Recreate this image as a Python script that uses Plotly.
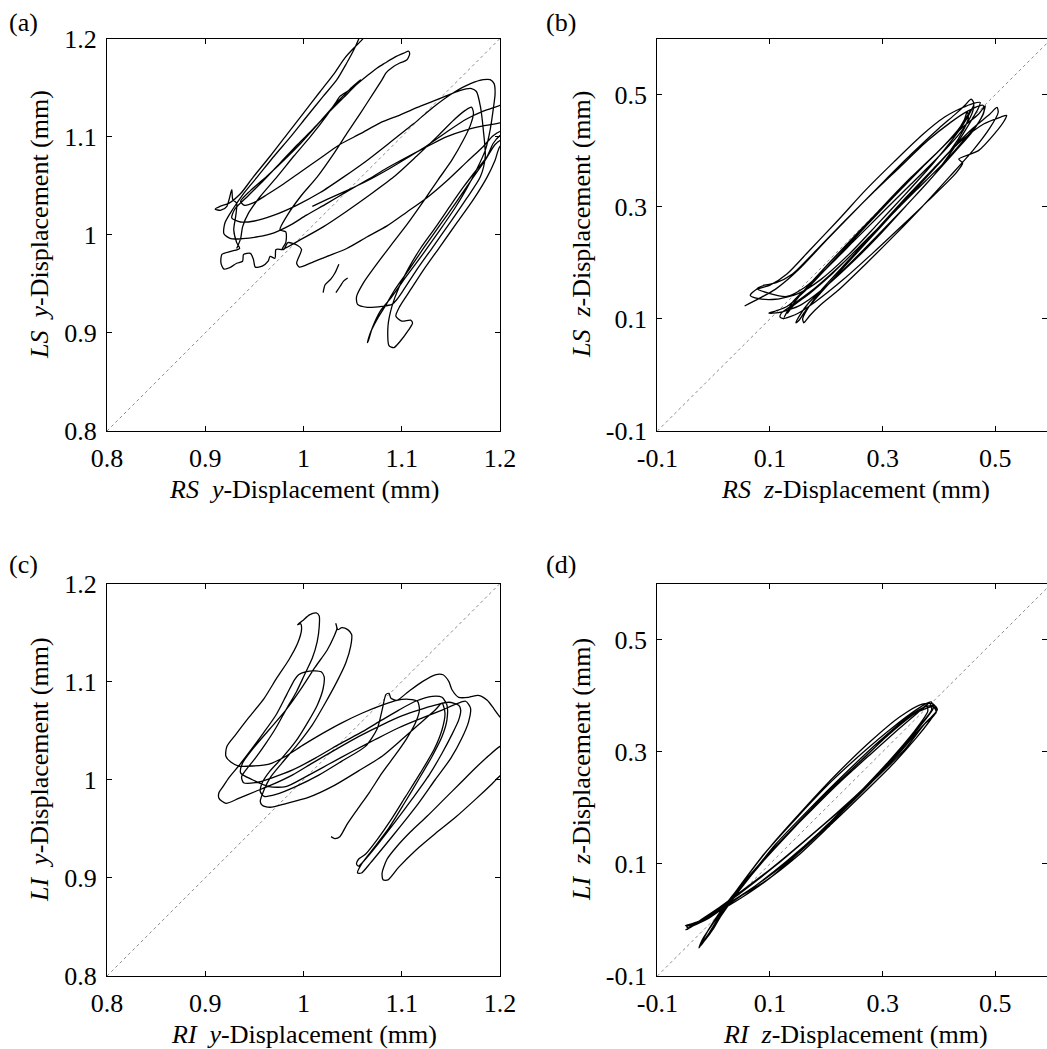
import plotly.graph_objects as go

# ---------------- data ----------------
# Panel (a): RS y-displacement (x) vs LS y-displacement (y), mm
a_pts = [
    (1.036, 0.970), (1.032, 0.961), (1.028, 0.955), (1.022, 0.949), (1.020, 0.941), (None, None),
    (1.033, 0.941), (1.037, 0.947), (1.041, 0.953), (1.045, 0.956), (None, None),
    (1.009, 1.029), (1.024, 1.036), (1.044, 1.045), (1.065, 1.055), (1.085, 1.066), (1.105, 1.078),
    (1.126, 1.091), (1.146, 1.105), (1.166, 1.118), (1.183, 1.126), (1.200, 1.132), (1.209, 1.136),
    (1.225, 1.120), (1.209, 1.105), (1.200, 1.101), (1.193, 1.093), (1.187, 1.080), (1.176, 1.066),
    (1.163, 1.049), (1.149, 1.029), (1.134, 1.007), (1.119, 0.986), (1.107, 0.966), (1.097, 0.946),
    (1.090, 0.927), (1.086, 0.907), (1.087, 0.887), (1.092, 0.885), (1.098, 0.891), (1.107, 0.903),
    (1.111, 0.910), (1.109, 0.913), (1.100, 0.912), (1.094, 0.917), (1.098, 0.927), (1.109, 0.944),
    (1.122, 0.964), (1.139, 0.988), (1.156, 1.012), (1.173, 1.036), (1.187, 1.059), (1.195, 1.076),
    (1.200, 1.090), (1.209, 1.094), (1.225, 1.105),
    (1.209, 1.117), (1.200, 1.114), (1.183, 1.111), (1.166, 1.107), (1.146, 1.100), (1.126, 1.090),
    (1.105, 1.079), (1.085, 1.068), (1.065, 1.056), (1.044, 1.044), (1.024, 1.032), (1.003, 1.020),
    (0.987, 1.010), (0.970, 1.002), (0.954, 0.998), (0.938, 0.996), (0.926, 0.996), (0.919, 1.001),
    (0.920, 1.012), (0.928, 1.026), (0.939, 1.042), (0.953, 1.059), (0.970, 1.080), (0.987, 1.100),
    (1.003, 1.120), (1.020, 1.141), (1.034, 1.158), (1.044, 1.175), (1.051, 1.188), (1.056, 1.199),
    (1.059, 1.207), (1.063, 1.215), (1.066, 1.207), (1.058, 1.197), (1.051, 1.190), (1.042, 1.180),
    (1.031, 1.164), (1.017, 1.146), (1.000, 1.124), (0.983, 1.102), (0.966, 1.080), (0.949, 1.059),
    (0.936, 1.042), (0.924, 1.032), (0.915, 1.029), (0.910, 1.026), (0.916, 1.025), (0.922, 1.029),
    (0.927, 1.046), (0.928, 1.036), (0.932, 1.032), (0.931, 1.019), (0.929, 1.005), (0.932, 0.992),
    (0.935, 0.986),
    (0.926, 0.983), (0.917, 0.980), (0.916, 0.971), (0.919, 0.965), (0.926, 0.967), (0.932, 0.971),
    (0.938, 0.973), (0.939, 0.980), (0.946, 0.981), (0.949, 0.975), (0.951, 0.967), (0.958, 0.968),
    (0.964, 0.973), (0.966, 0.978), (0.971, 0.976), (0.972, 0.985), (0.980, 0.985), (0.984, 0.992),
    (0.994, 0.989), (0.998, 0.985), (0.993, 0.971), (0.996, 0.967), (1.007, 0.971), (1.024, 0.978),
    (1.044, 0.986), (1.065, 0.998), (1.085, 1.009), (1.105, 1.023), (1.126, 1.038), (1.146, 1.055),
    (1.166, 1.074), (1.183, 1.090), (1.193, 1.101), (1.202, 1.106), (1.220, 1.105),
    (1.220, 1.095), (1.202, 1.097), (1.195, 1.092), (1.185, 1.076), (1.171, 1.056), (1.156, 1.034),
    (1.139, 1.010), (1.122, 0.986), (1.107, 0.964), (1.093, 0.944), (1.083, 0.927), (1.075, 0.914),
    (1.068, 0.900), (1.065, 0.890), (1.066, 0.892), (1.070, 0.905), (1.078, 0.922), (1.090, 0.937),
    (1.105, 0.958), (1.122, 0.981), (1.139, 1.005), (1.154, 1.027), (1.166, 1.047), (1.176, 1.066),
    (1.185, 1.086), (1.190, 1.107), (1.193, 1.127), (1.195, 1.144), (1.194, 1.154), (1.190, 1.158),
    (1.183, 1.158), (1.170, 1.154), (1.153, 1.145), (1.132, 1.130), (1.112, 1.113), (1.088, 1.094),
    (1.065, 1.076), (1.041, 1.059), (1.017, 1.043), (0.993, 1.030), (0.970, 1.020), (0.950, 1.014),
    (0.936, 1.013), (0.927, 1.017),
    (0.930, 1.026), (0.944, 1.040), (0.960, 1.056), (0.977, 1.074), (0.994, 1.092), (1.010, 1.108),
    (1.027, 1.126), (1.041, 1.140), (1.054, 1.153), (1.066, 1.163), (1.075, 1.170), (1.083, 1.175),
    (1.093, 1.181), (1.102, 1.185), (1.107, 1.187), (1.108, 1.184), (1.105, 1.178), (1.098, 1.175),
    (1.091, 1.171), (1.084, 1.165), (1.080, 1.158), (1.071, 1.144), (1.058, 1.124), (1.044, 1.103),
    (1.031, 1.083), (1.014, 1.059), (0.997, 1.039), (0.983, 1.019), (0.976, 1.005), (0.982, 1.003),
    (0.982, 0.992), (0.978, 0.985),
    (0.997, 0.995), (1.020, 1.008), (1.044, 1.024), (1.068, 1.041), (1.092, 1.059), (1.115, 1.080),
    (1.136, 1.100), (1.153, 1.117), (1.165, 1.127), (1.171, 1.130), (1.173, 1.124), (1.170, 1.112),
    (1.163, 1.097), (1.151, 1.076), (1.137, 1.056), (1.122, 1.034), (1.105, 1.010), (1.088, 0.988),
    (1.073, 0.968), (1.061, 0.951), (1.054, 0.937), (1.055, 0.929), (1.065, 0.926), (1.080, 0.927),
    (1.090, 0.929), (1.095, 0.934), (1.102, 0.944), (1.115, 0.964), (1.132, 0.988), (1.149, 1.012),
    (1.166, 1.037), (1.180, 1.059), (1.185, 1.080), (1.183, 1.107), (1.180, 1.131), (1.176, 1.146),
    (1.171, 1.149), (1.159, 1.147), (1.139, 1.139), (1.119, 1.131), (1.098, 1.122), (1.078, 1.114),
    (1.058, 1.103), (1.037, 1.092), (1.017, 1.078), (0.997, 1.064), (0.980, 1.052), (0.963, 1.041),
    (0.950, 1.033), (0.940, 1.030), (0.936, 1.034),
    (0.946, 1.045), (0.963, 1.060), (0.980, 1.076), (0.997, 1.093), (1.014, 1.112), (1.027, 1.127),
    (1.036, 1.137), (1.041, 1.142), (1.049, 1.150), (1.058, 1.158), (1.054, 1.153), (1.046, 1.147),
    (1.037, 1.141), (1.033, 1.135), (1.024, 1.122), (1.007, 1.100), (0.990, 1.080), (0.973, 1.059),
    (0.956, 1.039), (0.944, 1.022), (0.938, 1.008), (0.936, 0.996), (0.932, 0.986),
]

# Panel (b): RS z-displacement vs LS z-displacement, mm
b_pts = [
    (0.055, 0.123), (0.080, 0.136), (0.110, 0.153), (0.150, 0.187), (0.200, 0.240), (0.250, 0.292),
    (0.300, 0.343), (0.350, 0.393), (0.400, 0.440), (0.430, 0.466), (0.447, 0.482), (0.457, 0.492),
    (0.462, 0.484), (0.452, 0.462), (0.430, 0.428), (0.390, 0.378), (0.340, 0.322), (0.290, 0.268),
    (0.240, 0.215), (0.190, 0.170), (0.150, 0.145), (0.110, 0.135), (0.080, 0.136), (0.065, 0.142),
    (0.075, 0.152), (0.100, 0.160), (0.130, 0.180), (0.170, 0.222), (0.220, 0.275), (0.270, 0.330),
    (0.320, 0.380), (0.370, 0.428), (0.410, 0.460), (0.440, 0.476), (0.460, 0.484), (0.473, 0.486),
    (0.470, 0.476), (0.455, 0.450), (0.430, 0.410), (0.390, 0.355), (0.340, 0.300), (0.290, 0.245),
    (0.240, 0.195), (0.190, 0.150), (0.155, 0.125), (0.130, 0.115), (0.115, 0.111), (0.098, 0.110),
    (0.110, 0.114), (0.130, 0.122), (0.160, 0.148), (0.200, 0.190), (0.250, 0.245), (0.300, 0.300),
    (0.350, 0.352), (0.400, 0.400), (0.440, 0.440), (0.470, 0.465), (0.482, 0.480),
    (0.478, 0.465), (0.460, 0.435), (0.430, 0.400), (0.390, 0.355), (0.340, 0.300), (0.290, 0.248),
    (0.240, 0.197), (0.200, 0.158), (0.170, 0.130), (0.152, 0.105), (0.146, 0.093),
    (0.152, 0.098), (0.160, 0.110), (0.180, 0.135), (0.220, 0.180), (0.270, 0.235), (0.320, 0.290),
    (0.370, 0.345), (0.420, 0.400), (0.460, 0.440), (0.490, 0.465), (0.503, 0.477),
    (0.505, 0.468), (0.490, 0.440), (0.460, 0.400), (0.420, 0.355), (0.370, 0.300), (0.320, 0.248),
    (0.270, 0.198), (0.220, 0.150), (0.190, 0.125), (0.170, 0.105), (0.163, 0.096), (0.160, 0.093),
    (0.158, 0.100), (0.165, 0.115), (0.190, 0.150), (0.240, 0.205), (0.290, 0.260), (0.340, 0.315),
    (0.390, 0.368), (0.440, 0.418), (0.480, 0.448), (0.510, 0.460), (0.520, 0.463),
    (0.515, 0.452), (0.500, 0.432), (0.470, 0.400), (0.435, 0.385), (0.442, 0.378), (0.430, 0.360),
    (0.380, 0.310), (0.330, 0.262), (0.280, 0.215), (0.230, 0.170), (0.180, 0.130), (0.150, 0.110),
    (0.125, 0.101),
    (0.130, 0.112), (0.140, 0.130), (0.170, 0.160), (0.220, 0.210), (0.270, 0.265), (0.320, 0.318),
    (0.370, 0.370), (0.410, 0.410), (0.440, 0.445), (0.455, 0.470), (0.462, 0.480),
    (0.458, 0.465), (0.440, 0.435), (0.400, 0.390), (0.350, 0.340), (0.300, 0.290), (0.250, 0.240),
    (0.200, 0.190), (0.160, 0.155), (0.130, 0.140), (0.100, 0.145), (0.077, 0.154),
    (0.090, 0.160), (0.110, 0.164), (0.140, 0.180), (0.180, 0.220), (0.230, 0.272), (0.280, 0.322),
    (0.330, 0.370), (0.380, 0.418), (0.420, 0.450), (0.450, 0.470), (0.478, 0.481),
    (0.480, 0.470), (0.470, 0.450), (0.445, 0.420), (0.410, 0.380), (0.360, 0.330), (0.310, 0.280),
    (0.260, 0.230), (0.210, 0.180), (0.170, 0.145), (0.140, 0.122), (0.131, 0.110),
    (0.135, 0.118), (0.160, 0.150), (0.210, 0.205), (0.260, 0.258), (0.310, 0.310), (0.360, 0.360),
    (0.400, 0.400), (0.430, 0.432), (0.445, 0.455), (0.450, 0.470),
    (0.452, 0.458), (0.445, 0.440), (0.420, 0.400), (0.380, 0.355), (0.330, 0.300), (0.280, 0.250),
    (0.230, 0.200), (0.180, 0.155), (0.140, 0.125), (0.120, 0.110), (0.118, 0.103), (0.125, 0.100),
]

# Panel (c): RI y-displacement vs LI y-displacement, mm
c_pts = [
    (1.028, 0.942), (1.032, 0.940), (1.037, 0.942), (1.044, 0.954), (1.055, 0.970), (1.067, 0.987),
    (1.080, 1.007), (1.094, 1.026), (1.105, 1.042), (1.114, 1.058), (1.118, 1.071), (1.116, 1.080),
    (1.107, 1.082), (1.095, 1.081), (1.080, 1.076), (1.060, 1.068), (1.039, 1.058), (1.019, 1.047),
    (0.999, 1.035), (0.982, 1.024), (0.965, 1.016), (0.948, 1.014), (0.934, 1.014), (0.926, 1.018),
    (0.921, 1.024),
    (0.922, 1.034), (0.931, 1.046), (0.944, 1.063), (0.960, 1.083), (0.973, 1.104), (0.985, 1.122),
    (0.994, 1.139), (0.998, 1.153), (0.997, 1.159), (0.994, 1.158), (0.999, 1.162), (1.006, 1.168),
    (1.013, 1.170), (1.016, 1.167), (1.016, 1.156), (1.014, 1.141), (1.009, 1.124), (1.001, 1.107),
    (0.993, 1.090), (0.982, 1.071), (0.972, 1.053), (0.961, 1.036), (0.951, 1.022), (0.943, 1.012),
    (0.937, 1.003),
    (0.939, 0.997), (0.951, 0.997), (0.968, 1.002), (0.989, 1.010), (1.012, 1.022), (1.036, 1.036),
    (1.060, 1.049), (1.080, 1.061), (1.097, 1.071), (1.114, 1.080), (1.131, 1.085), (1.141, 1.084),
    (1.146, 1.076), (1.146, 1.061), (1.141, 1.044), (1.131, 1.024), (1.117, 1.000), (1.102, 0.975),
    (1.087, 0.951), (1.072, 0.931), (1.059, 0.914), (1.055, 0.905), (1.059, 0.905), (1.068, 0.915),
    (1.082, 0.932), (1.099, 0.953), (1.117, 0.976), (1.134, 1.000), (1.150, 1.022), (1.161, 1.042),
    (1.168, 1.059), (1.170, 1.073), (1.165, 1.080),
    (1.155, 1.077), (1.141, 1.071), (1.121, 1.063), (1.097, 1.053), (1.073, 1.041), (1.050, 1.029),
    (1.026, 1.016), (1.002, 1.003), (0.982, 0.993), (0.965, 0.993), (0.948, 1.000), (0.936, 1.007),
    (0.938, 1.017), (0.948, 1.031), (0.965, 1.051), (0.982, 1.071), (0.999, 1.095), (1.012, 1.115),
    (1.024, 1.132), (1.031, 1.146), (1.034, 1.154), (1.033, 1.159), (1.035, 1.153), (1.039, 1.155),
    (1.045, 1.153), (1.049, 1.148), (1.048, 1.136), (1.043, 1.119), (1.034, 1.100), (1.022, 1.078),
    (1.009, 1.056), (0.994, 1.036), (0.978, 1.017), (0.966, 1.002), (0.960, 0.990), (0.956, 0.978),
    (0.958, 0.974), (0.966, 0.972), (0.983, 0.976), (1.005, 0.982), (1.031, 0.994), (1.056, 1.009),
    (1.080, 1.024), (1.100, 1.041), (1.117, 1.056), (1.134, 1.071), (1.141, 1.078),
    (1.144, 1.068), (1.141, 1.051), (1.133, 1.031), (1.119, 1.007), (1.104, 0.983), (1.089, 0.959),
    (1.075, 0.939), (1.063, 0.924), (1.056, 0.919), (1.054, 0.914), (1.056, 0.912), (1.063, 0.919),
    (1.077, 0.936), (1.094, 0.958), (1.111, 0.981), (1.128, 1.005), (1.141, 1.027), (1.151, 1.046),
    (1.158, 1.061), (1.160, 1.071), (1.158, 1.076),
    (1.148, 1.079), (1.134, 1.076), (1.117, 1.071), (1.100, 1.065), (1.080, 1.056), (1.056, 1.044),
    (1.033, 1.031), (1.009, 1.017), (0.989, 1.005), (0.968, 0.995), (0.951, 0.988), (0.934, 0.981),
    (0.921, 0.976), (0.914, 0.981), (0.914, 0.987), (0.918, 0.993),
    (0.924, 1.002), (0.934, 1.014), (0.944, 1.027), (0.958, 1.046), (0.972, 1.066), (0.983, 1.087),
    (0.991, 1.102), (0.995, 1.107), (1.002, 1.110), (1.012, 1.111), (1.018, 1.110), (1.021, 1.105),
    (1.020, 1.093), (1.014, 1.076), (1.004, 1.058), (0.992, 1.039), (0.978, 1.022), (0.966, 1.009),
    (0.958, 0.997), (0.956, 0.988), (0.960, 0.983),
    (0.972, 0.985), (0.992, 0.993), (1.016, 1.005), (1.039, 1.019), (1.063, 1.034), (1.075, 1.052),
    (1.080, 1.071), (1.084, 1.087), (1.087, 1.088), (1.089, 1.083), (1.095, 1.081), (1.107, 1.090),
    (1.121, 1.100), (1.134, 1.107), (1.142, 1.107), (1.148, 1.100), (1.151, 1.092), (1.158, 1.084),
    (1.168, 1.084), (1.178, 1.086), (1.187, 1.081), (1.194, 1.072), (1.200, 1.064), (1.207, 1.059),
    (1.220, 1.050),
    (1.220, 1.040), (1.207, 1.037), (1.200, 1.034), (1.189, 1.025), (1.175, 1.012), (1.160, 0.997),
    (1.143, 0.980), (1.126, 0.963), (1.109, 0.947), (1.095, 0.932), (1.085, 0.919), (1.080, 0.905),
    (1.081, 0.898), (1.086, 0.898), (1.097, 0.911), (1.114, 0.928), (1.134, 0.945), (1.155, 0.962),
    (1.175, 0.980), (1.192, 0.996), (1.200, 1.004), (1.207, 1.009),
]

# Panel (d): RI z-displacement vs LI z-displacement, mm
d_pts = [
    (-0.050, -0.018), (-0.030, -0.006), (0.000, 0.012), (0.040, 0.038), (0.090, 0.068), (0.150, 0.115),
    (0.210, 0.172), (0.270, 0.230), (0.320, 0.280), (0.360, 0.325), (0.385, 0.357), (0.395, 0.372),
    (0.390, 0.385), (0.370, 0.385), (0.330, 0.362), (0.280, 0.320), (0.220, 0.262), (0.160, 0.198),
    (0.100, 0.130), (0.050, 0.065), (0.020, 0.022), (0.000, -0.010), (-0.015, -0.035), (-0.024, -0.047),
    (-0.015, -0.028), (0.010, 0.012), (0.040, 0.052), (0.090, 0.118), (0.150, 0.185), (0.210, 0.248),
    (0.270, 0.303), (0.320, 0.345), (0.360, 0.375), (0.380, 0.387), (0.386, 0.389),
    (0.390, 0.378), (0.370, 0.350), (0.330, 0.300), (0.280, 0.245), (0.220, 0.185), (0.160, 0.128),
    (0.100, 0.075), (0.050, 0.040), (0.000, 0.010), (-0.030, -0.006), (-0.048, -0.012),
    (-0.045, -0.014), (-0.020, 0.002), (0.010, 0.022), (0.045, 0.048), (0.100, 0.090), (0.160, 0.140),
    (0.220, 0.192), (0.280, 0.248), (0.330, 0.298), (0.370, 0.345), (0.392, 0.368), (0.397, 0.375),
    (0.393, 0.382), (0.375, 0.380), (0.340, 0.358), (0.290, 0.315), (0.230, 0.258), (0.170, 0.198),
    (0.110, 0.135), (0.060, 0.072), (0.025, 0.025), (0.000, -0.012), (-0.018, -0.038), (-0.026, -0.050),
    (-0.020, -0.035), (0.000, -0.005), (0.030, 0.038), (0.080, 0.098), (0.140, 0.163), (0.200, 0.225),
    (0.260, 0.283), (0.310, 0.330), (0.350, 0.363), (0.375, 0.380), (0.383, 0.387),
    (0.387, 0.375), (0.360, 0.340), (0.320, 0.292), (0.270, 0.238), (0.210, 0.178), (0.150, 0.120),
    (0.090, 0.072), (0.040, 0.038), (-0.005, 0.010), (-0.030, -0.004), (-0.050, -0.010),
    (-0.040, -0.010), (-0.010, 0.008), (0.020, 0.028), (0.050, 0.050), (0.110, 0.097), (0.170, 0.148),
    (0.230, 0.200), (0.290, 0.255), (0.340, 0.305), (0.375, 0.350), (0.395, 0.370),
    (0.390, 0.380), (0.360, 0.370), (0.320, 0.340), (0.270, 0.292), (0.210, 0.235), (0.150, 0.172),
    (0.090, 0.107), (0.045, 0.052), (0.015, 0.010), (-0.005, -0.022), (-0.020, -0.042),
    (0.000, -0.015), (0.020, 0.020), (0.050, 0.062), (0.100, 0.120), (0.160, 0.182), (0.220, 0.242),
    (0.280, 0.297), (0.330, 0.342), (0.365, 0.372), (0.378, 0.383),
    (0.380, 0.372), (0.355, 0.335), (0.310, 0.282), (0.250, 0.218), (0.190, 0.158), (0.130, 0.105),
    (0.070, 0.058), (0.030, 0.030), (-0.010, 0.002), (-0.035, -0.010), (-0.047, -0.017),
]

y_ticks = [0.8, 0.9, 1.0, 1.1, 1.2]
y_ticktext = ["0.8", "0.9", "1", "1.1", "1.2"]
z_ticks = [-0.1, 0.1, 0.3, 0.5]
z_ticktext = ["-0.1", "0.1", "0.3", "0.5"]

panel_labels = ["(a)", "(b)", "(c)", "(d)"]
x_titles = ["<i>RS</i>\u00a0 <i>y</i>-Displacement (mm)", "<i>RS</i>\u00a0 <i>z</i>-Displacement (mm)",
            "<i>RI</i>\u00a0 <i>y</i>-Displacement (mm)", "<i>RI</i>\u00a0 <i>z</i>-Displacement (mm)"]
y_titles = ["<i>LS</i>\u00a0 <i>y</i>-Displacement (mm)", "<i>LS</i>\u00a0 <i>z</i>-Displacement (mm)",
            "<i>LI</i>\u00a0 <i>y</i>-Displacement (mm)", "<i>LI</i>\u00a0 <i>z</i>-Displacement (mm)"]

# ---------------- layout (pixel geometry of the page) ----------------
W, H = 1047, 1049
FONT = "Liberation Serif, Times New Roman, serif"
FS = 26

def px(x):
    return x / W

def py(y):
    return 1 - y / H

left_dom = [px(107), px(500)]
right_dom = [px(657.3), 1.0]
top_dom = [py(431), py(38.5)]
bot_dom = [py(976), py(583.5)]
right_xmax = -0.1 + 0.7 * (W - 657.3) / 394.4

panels = [
    dict(pts=a_pts, xdom=left_dom, ydom=top_dom, xr=[0.8, 1.2], yr=[0.8, 1.2], tv=y_ticks, tt=y_ticktext, diag=[0.8, 1.2]),
    dict(pts=b_pts, xdom=right_dom, ydom=top_dom, xr=[-0.1, right_xmax], yr=[-0.1, 0.6], tv=z_ticks, tt=z_ticktext, diag=[-0.1, 0.6]),
    dict(pts=c_pts, xdom=left_dom, ydom=bot_dom, xr=[0.8, 1.2], yr=[0.8, 1.2], tv=y_ticks, tt=y_ticktext, diag=[0.8, 1.2]),
    dict(pts=d_pts, xdom=right_dom, ydom=bot_dom, xr=[-0.1, right_xmax], yr=[-0.1, 0.6], tv=z_ticks, tt=z_ticktext, diag=[-0.1, 0.6]),
]

fig = go.Figure()
layout = dict(
    template="none",
    width=W, height=H, margin=dict(l=0, r=0, t=0, b=0, pad=0, autoexpand=False),
    paper_bgcolor="white", plot_bgcolor="white", showlegend=False,
    font=dict(family=FONT, size=FS, color="black"),
)

axis_common = dict(
    showline=True, linecolor="black", linewidth=1.2, mirror="ticks",
    ticks="inside", ticklen=5, tickwidth=1, tickcolor="black",
    showgrid=False, zeroline=False, tickmode="array", automargin=False,
    tickfont=dict(family=FONT, size=FS, color="black"),
)

for i, p in enumerate(panels, start=1):
    xs = [q[0] for q in p["pts"]]
    ys = [q[1] for q in p["pts"]]
    xa = "x" if i == 1 else f"x{i}"
    ya = "y" if i == 1 else f"y{i}"
    fig.add_trace(go.Scatter(x=p["diag"], y=p["diag"], mode="lines", xaxis=xa, yaxis=ya,
                             line=dict(color="#8a8a8a", width=1, dash="dot"), hoverinfo="skip"))
    fig.add_trace(go.Scatter(x=xs, y=ys, mode="lines", xaxis=xa, yaxis=ya,
                             line=dict(color="black", width=1.3, shape="spline", smoothing=0.7),
                             connectgaps=False))
    layout["xaxis" if i == 1 else f"xaxis{i}"] = dict(
        axis_common, domain=p["xdom"], range=p["xr"], anchor=ya,
        tickvals=p["tv"], ticktext=p["tt"], ticklabelstandoff=4)
    layout["yaxis" if i == 1 else f"yaxis{i}"] = dict(
        axis_common, domain=p["ydom"], range=p["yr"], anchor=xa,
        tickvals=p["tv"], ticktext=p["tt"], ticklabelstandoff=4)

ann = []
for lbl, (x0, yc) in zip(panel_labels, [(7, 22), (544, 22), (7, 564), (544, 564)]):
    ann.append(dict(text=lbl, x=px(x0), y=py(yc), xref="paper", yref="paper",
                    xanchor="left", yanchor="middle", showarrow=False,
                    font=dict(family=FONT, size=FS)))
for t, (xc, yc) in zip(x_titles, [(304, 489), (855, 489), (304, 1034), (855, 1034)]):
    ann.append(dict(text=t, x=px(xc), y=py(yc), xref="paper", yref="paper",
                    xanchor="center", yanchor="middle", showarrow=False,
                    font=dict(family=FONT, size=FS)))
for t, (xc, yc) in zip(y_titles, [(39, 225), (581, 225), (39, 770), (581, 770)]):
    ann.append(dict(text=t, x=px(xc), y=py(yc), xref="paper", yref="paper",
                    xanchor="center", yanchor="middle", textangle=-90, showarrow=False,
                    font=dict(family=FONT, size=FS)))
layout["annotations"] = ann

fig.update_layout(**layout)
fig.write_html("out.html")
